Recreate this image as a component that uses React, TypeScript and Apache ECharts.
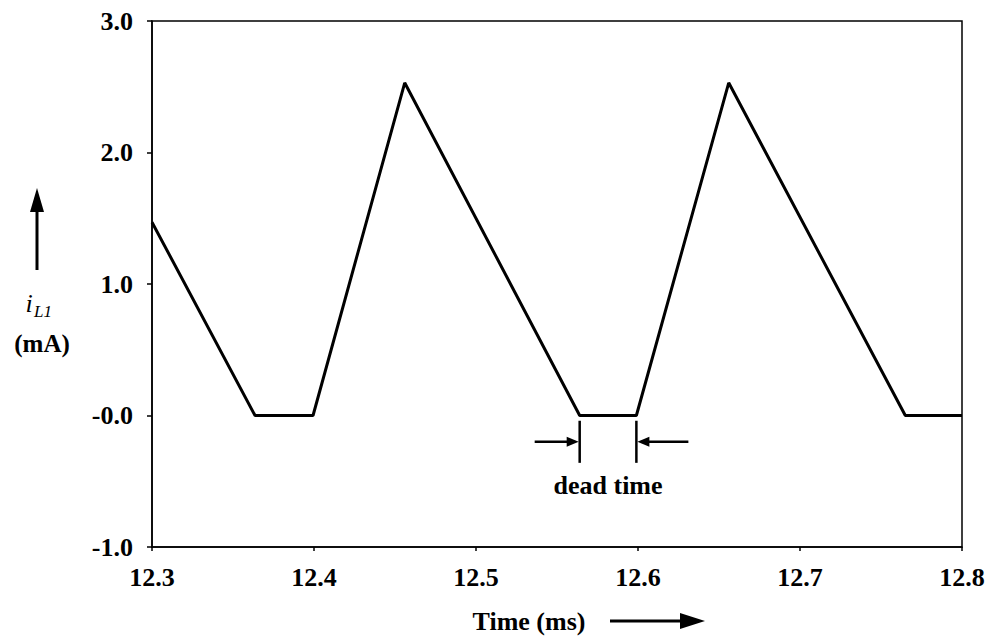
import React, { useEffect, useRef } from "react";
import * as echarts from "echarts";

// Time (ms) and inductor current i_L1 (mA)
const times = [12.3, 12.3636, 12.3994, 12.456, 12.564, 12.599, 12.656, 12.765, 12.8];
const current = [1.47, 0, 0, 2.53, 0, 0, 2.53, 0, 0];
const xTickLabels = ["12.3", "12.4", "12.5", "12.6", "12.7", "12.8"];
const yTickLabels = ["-1.0", "-0.0", "1.0", "2.0", "3.0"];
const deadTime = [12.564, 12.599];

const FONT = "Liberation Serif, Times New Roman, serif";

export default function App() {
  const ref = useRef<HTMLDivElement>(null);
  useEffect(() => {
    if (!ref.current) return;
    const chart = echarts.init(ref.current, undefined, { renderer: "svg" });
    const option: any = {
      animation: false,
      backgroundColor: "#fff",
      grid: {
        left: 152,
        right: 34,
        top: 21,
        bottom: 93,
        show: true,
        borderColor: "#000",
        borderWidth: 1.5,
      },
      xAxis: {
        type: "value",
        min: 12.3,
        max: 12.8,
        interval: 0.1,
        axisLine: { show: true, onZero: false, lineStyle: { color: "#000", width: 1.5 } },
        axisTick: { show: true, length: 4, lineStyle: { color: "#000", width: 1.5 } },
        splitLine: { show: false },
        axisLabel: {
          color: "#000",
          fontFamily: FONT,
          fontSize: 26,
          fontWeight: "bold",
          margin: 17,
          formatter: (v: number) => {
            const i = Math.round((v - 12.3) / 0.1);
            return xTickLabels[i] ?? "";
          },
        },
      },
      yAxis: {
        type: "value",
        min: -1,
        max: 3,
        interval: 1,
        axisLine: { show: true, onZero: false, lineStyle: { color: "#000", width: 1.5 } },
        axisTick: { show: true, length: 5, lineStyle: { color: "#000", width: 1.5 } },
        splitLine: { show: false },
        axisLabel: {
          color: "#000",
          fontFamily: FONT,
          fontSize: 26,
          fontWeight: "bold",
          margin: 19,
          formatter: (v: number) => {
            const i = Math.round(v + 1);
            return yTickLabels[i] ?? "";
          },
        },
      },
      series: [
        {
          type: "line",
          data: times.map((t, i) => [t, current[i]]),
          symbol: "none",
          lineStyle: { color: "#000", width: 3 },
        },
      ],
    };
    chart.setOption(option);

    const p1 = chart.convertToPixel({ gridIndex: 0 }, [deadTime[0], -0.2]) as number[];
    const p2 = chart.convertToPixel({ gridIndex: 0 }, [deadTime[1], -0.2]) as number[];
    const yTop = (chart.convertToPixel({ gridIndex: 0 }, [deadTime[0], -0.04]) as number[])[1];
    const yBot = (chart.convertToPixel({ gridIndex: 0 }, [deadTime[0], -0.36]) as number[])[1];
    const ay = p1[1];
    const lx = p1[0];
    const rx = p2[0];
    const stroke = { stroke: "#000", lineWidth: 2.5 };

    chart.setOption({
      graphic: [
        // dead time markers
        { type: "line", shape: { x1: lx, y1: yTop, x2: lx, y2: yBot }, style: stroke },
        { type: "line", shape: { x1: rx, y1: yTop, x2: rx, y2: yBot }, style: stroke },
        { type: "line", shape: { x1: lx - 45, y1: ay, x2: lx - 8, y2: ay }, style: stroke },
        {
          type: "polygon",
          shape: { points: [[lx - 1, ay], [lx - 13, ay - 5], [lx - 13, ay + 5]] },
          style: { fill: "#000" },
        },
        { type: "line", shape: { x1: rx + 52, y1: ay, x2: rx + 8, y2: ay }, style: stroke },
        {
          type: "polygon",
          shape: { points: [[rx + 1, ay], [rx + 13, ay - 5], [rx + 13, ay + 5]] },
          style: { fill: "#000" },
        },
        {
          type: "text",
          x: (lx + rx) / 2,
          y: 485,
          style: {
            text: "dead time",
            fill: "#000",
            font: `bold 26px ${FONT}`,
            align: "center",
            verticalAlign: "middle",
          },
        },
        // y-axis title with arrow
        { type: "line", shape: { x1: 37, y1: 270, x2: 37, y2: 205 }, style: { stroke: "#000", lineWidth: 3 } },
        {
          type: "polygon",
          shape: { points: [[37, 188], [30, 212], [44, 212]] },
          style: { fill: "#000" },
        },
        {
          type: "text",
          x: 29,
          y: 303,
          style: {
            text: "i",
            fill: "#000",
            font: `italic 26px ${FONT}`,
            align: "center",
            verticalAlign: "middle",
          },
        },
        {
          type: "text",
          x: 34,
          y: 311,
          style: {
            text: "L1",
            fill: "#000",
            font: `italic 17px ${FONT}`,
            align: "left",
            verticalAlign: "middle",
          },
        },
        {
          type: "text",
          x: 42,
          y: 343,
          style: {
            text: "(mA)",
            fill: "#000",
            font: `bold 25px ${FONT}`,
            align: "center",
            verticalAlign: "middle",
          },
        },
        // x-axis title with arrow
        {
          type: "text",
          x: 529,
          y: 621,
          style: {
            text: "Time (ms)",
            fill: "#000",
            font: `bold 26px ${FONT}`,
            align: "center",
            verticalAlign: "middle",
          },
        },
        { type: "line", shape: { x1: 610, y1: 621, x2: 688, y2: 621 }, style: { stroke: "#000", lineWidth: 3 } },
        {
          type: "polygon",
          shape: { points: [[705, 621], [680, 613], [680, 629]] },
          style: { fill: "#000" },
        },
      ],
    });

    return () => chart.dispose();
  }, []);
  return (
    <div
      ref={ref}
      style={{ position: "absolute", left: 0, top: 0, width: 996, height: 640 }}
    />
  );
}
